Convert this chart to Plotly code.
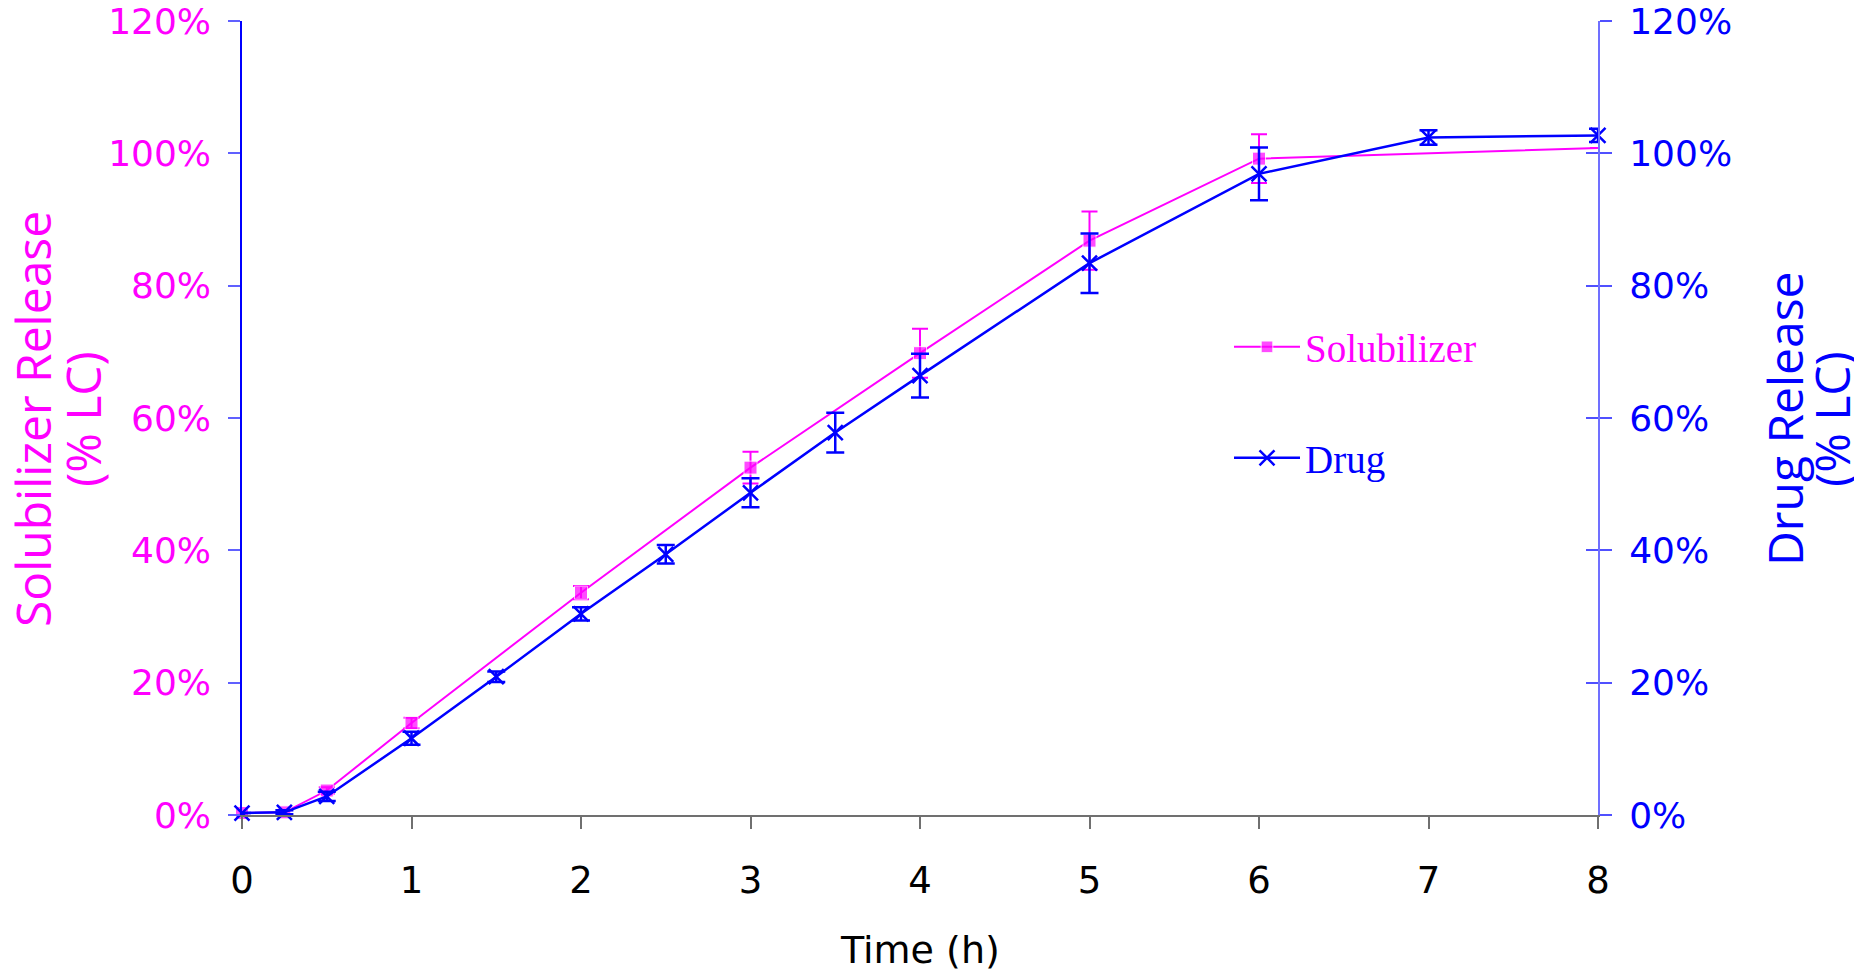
import plotly.graph_objects as go

# ---- data (percent of label claim) ----
sol_time = [0, 0.25, 0.5, 1, 2, 3, 4, 5, 6, 8]
sol_release = [0.3, 0.4, 3.7, 13.9, 33.6, 52.5, 69.8, 86.8, 99.2, 100.8]
sol_err = [0, 0.3, 0.5, 0.8, 1.0, 2.4, 3.7, 4.4, 3.7, 0]

drug_time = [0, 0.25, 0.5, 1, 1.5, 2, 2.5, 3, 3.5, 4, 5, 6, 7, 8]
drug_release = [0.3, 0.4, 2.8, 11.6, 20.9, 30.4, 39.4, 48.7, 57.8, 66.4, 83.4, 96.9, 102.4, 102.7]
drug_err = [0, 0.3, 0.7, 1.0, 0.8, 1.0, 1.4, 2.2, 3.0, 3.3, 4.5, 4.0, 1.1, 1.0]

x_ticks = [0, 1, 2, 3, 4, 5, 6, 7, 8]
y_ticks = [0, 20, 40, 60, 80, 100, 120]

MAG = "#FF00FF"
BLUE = "#0000FF"

# page geometry (browser body has an 8px margin)
W, H = 1854, 963
L, R, T, B = 234, 264, 13, 156
PX0, PX1 = 8 + L, 8 + W - R     # plot left/right in page px
PY0, PY1 = 8 + T, 8 + H - B     # plot top/bottom in page px


def px_to_paper_x(px):
    return (px - PX0) / (PX1 - PX0)


def px_to_paper_y(py):
    return (PY1 - py) / (PY1 - PY0)


fig = go.Figure()

sol_sizes = [13] * (len(sol_time) - 1) + [0]

fig.add_trace(go.Scatter(
    x=sol_time, y=sol_release, name="Solubilizer", mode="lines+markers",
    line=dict(color=MAG, width=2),
    marker=dict(symbol="square", size=sol_sizes, color=MAG),
    error_y=dict(type="data", array=sol_err, color=MAG, thickness=2, width=8),
    cliponaxis=False, legend="legend", yaxis="y",
))
fig.add_trace(go.Scatter(
    x=drug_time, y=drug_release, name="Drug", mode="lines+markers",
    line=dict(color=BLUE, width=2.5),
    marker=dict(symbol="x-thin-open", size=15, color=BLUE, line=dict(color=BLUE, width=2.5)),
    error_y=dict(type="data", array=drug_err, color=BLUE, thickness=2.5, width=9),
    cliponaxis=False, legend="legend2", yaxis="y2",
))
# empty trace so the inner-tick copy of the right axis is drawn
fig.add_trace(go.Scatter(x=[], y=[], yaxis="y3", showlegend=False, hoverinfo="skip"))

tick_font = "DejaVu Sans, Verdana, sans-serif"
title_font = "Open Sans, DejaVu Sans, sans-serif"
legend_font = "Liberation Serif, Times New Roman, serif"

fig.update_layout(
    width=W, height=H,
    paper_bgcolor="white", plot_bgcolor="white",
    margin=dict(l=L, r=R, t=T, b=B, autoexpand=False),
    xaxis=dict(
        range=[0, 8], tickvals=x_ticks, ticktext=[str(v) for v in x_ticks],
        showgrid=False, zeroline=False, showline=True, linecolor="#707070", linewidth=2,
        ticks="outside", ticklen=12, tickwidth=2, tickcolor="#707070",
        tickfont=dict(family=tick_font, size=37, color="black"),
        ticklabelstandoff=20, automargin=False, ticklabeloverflow="allow",
    ),
    yaxis=dict(
        range=[0, 120], tickvals=y_ticks, ticktext=[f"{v}%" for v in y_ticks],
        showgrid=False, zeroline=False, showline=True, linecolor=BLUE, linewidth=1.5,
        ticks="outside", ticklen=12, tickwidth=1.5, tickcolor="#6060FF",
        tickfont=dict(family=tick_font, size=36, color=MAG),
        ticklabelstandoff=10, automargin=False, ticklabeloverflow="allow",
    ),
    yaxis2=dict(
        range=[0, 120], tickvals=y_ticks, ticktext=[f"{v}%" for v in y_ticks],
        overlaying="y", side="right",
        showgrid=False, zeroline=False, showline=True, linecolor="#7070FF", linewidth=2,
        ticks="outside", ticklen=12, tickwidth=1.5, tickcolor="#5050FF",
        tickfont=dict(family=tick_font, size=36, color=BLUE),
        ticklabelstandoff=10, automargin=False, ticklabeloverflow="allow",
    ),
    yaxis3=dict(
        range=[0, 120], tickvals=y_ticks, overlaying="y", side="right",
        showgrid=False, zeroline=False, showline=False, showticklabels=False,
        ticks="inside", ticklen=12, tickwidth=1.5, tickcolor="#5050FF",
        automargin=False,
    ),
    legend=dict(
        x=px_to_paper_x(1229), y=px_to_paper_y(315), xanchor="left", yanchor="top",
        bgcolor="rgba(0,0,0,0)", itemwidth=66,
        font=dict(family=legend_font, size=39, color=MAG),
    ),
    legend2=dict(
        x=px_to_paper_x(1229), y=px_to_paper_y(426), xanchor="left", yanchor="top",
        bgcolor="rgba(0,0,0,0)", itemwidth=66,
        font=dict(family=legend_font, size=39, color=BLUE),
    ),
    showlegend=True,
)

# two-line rotated axis titles, each line placed separately
for text, cx, color in [
    ("Solubilizer Release", 33, MAG), ("(% LC)", 83, MAG),
    ("Drug Release", 1785, BLUE), ("(% LC)", 1832, BLUE),
]:
    fig.add_annotation(
        text=text, xref="paper", yref="paper",
        x=px_to_paper_x(cx), y=px_to_paper_y(419), xanchor="center", yanchor="middle",
        textangle=-90, showarrow=False,
        font=dict(family=title_font, size=48, color=color),
    )

fig.add_annotation(
    text="Time (h)", xref="paper", yref="paper",
    x=0.5, y=px_to_paper_y(950), xanchor="center", yanchor="middle", showarrow=False,
    font=dict(family=tick_font, size=38, color="black"),
)

fig.write_html("out.html")
